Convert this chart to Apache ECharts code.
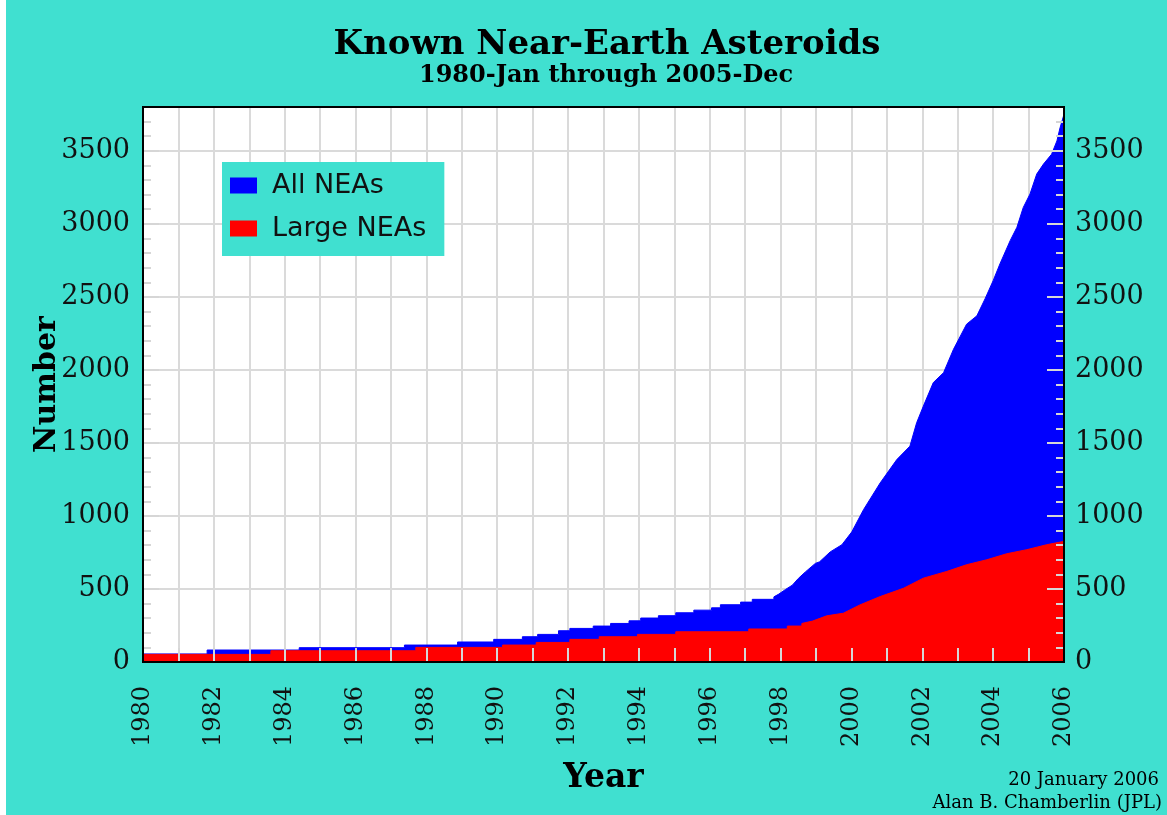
<!DOCTYPE html>
<html>
<head>
<meta charset="utf-8">
<script src="https://cdn.jsdelivr.net/npm/echarts@6.0.0/dist/echarts.min.js"></script>
<style>
html,body{margin:0;padding:0;background:#40E0D0;}
#c{width:1167px;height:815px;}
</style>
</head>
<body>
<div id="c"></div>
<script>
// ---- Data ----
const titleText = 'Known Near-Earth Asteroids';
const subtitleText = '1980-Jan through 2005-Dec';
const creditLines = ['20 January 2006', 'Alan B. Chamberlin (JPL)'];
const seriesNames = ['All NEAs', 'Large NEAs'];

const xTickLabels = [1980, 1982, 1984, 1986, 1988, 1990, 1992, 1994, 1996, 1998, 2000, 2002, 2004, 2006];
const yTickLabels = [0, 500, 1000, 1500, 2000, 2500, 3000, 3500];

// All NEAs (cumulative count); repeated years mark the stair steps
const allYears = [1980, 1981.81, 1981.81, 1984.41, 1984.41, 1987.38, 1987.38, 1988.88, 1988.88, 1989.90, 1989.90,
  1990.71, 1990.71, 1991.14, 1991.14, 1991.73, 1991.73, 1992.05, 1992.05, 1992.71, 1992.71, 1993.20, 1993.20,
  1993.72, 1993.72, 1994.05, 1994.05, 1994.55, 1994.55, 1995.04, 1995.04, 1995.55, 1995.55, 1996.05, 1996.05,
  1996.30, 1996.30, 1996.87, 1996.87, 1997.20, 1997.20, 1997.81, 1997.81,
  1997.95, 1998.14, 1998.33, 1998.50, 1998.70, 1998.98, 1999.10, 1999.40, 1999.73, 2000.01, 2000.34, 2000.81,
  2001.28, 2001.65, 2001.84, 2002.03, 2002.31, 2002.60, 2002.88, 2003.25, 2003.54, 2003.77, 2004.00, 2004.19,
  2004.48, 2004.67, 2004.85, 2005.04, 2005.23, 2005.42, 2005.65, 2005.80, 2005.89, 2006.00];
const allCounts = [55, 55, 82, 82, 98, 98, 116, 116, 137, 137, 155,
  155, 173, 173, 189, 189, 214, 214, 230, 230, 246, 246, 264,
  264, 282, 282, 301, 301, 317, 317, 337, 337, 355, 355, 371,
  371, 392, 392, 410, 410, 429, 429, 446,
  465, 497, 526, 572, 617, 675, 686, 754, 803, 891, 1043, 1226,
  1386, 1478, 1638, 1752, 1913, 1981, 2141, 2313, 2370, 2486, 2611, 2725,
  2885, 2976, 3112, 3204, 3341, 3409, 3477, 3568, 3659, 3750];

// Large NEAs
const largeYears = [1980, 1983.61, 1983.61, 1987.70, 1987.70, 1990.15, 1990.15, 1991.10, 1991.10, 1992.05, 1992.05,
  1992.88, 1992.88, 1993.96, 1993.96, 1995.04, 1995.04, 1997.10, 1997.10, 1998.19, 1998.19, 1998.60, 1998.60,
  1998.90, 1999.30, 1999.77, 2000.24, 2000.81, 2001.47, 2002.03, 2002.69, 2003.25, 2003.82, 2004.38, 2004.95,
  2005.51, 2006.00];
const largeCounts = [52, 52, 77, 77, 100, 100, 116, 116, 134, 134, 155,
  155, 173, 173, 189, 189, 207, 207, 226, 226, 246, 246, 264,
  280, 316, 334, 391, 448, 505, 574, 620, 666, 700, 741, 769,
  803, 826];

// ---- Chart ----
function zip(xs, ys) {
  const n = Math.min(xs.length, ys.length), out = [];
  for (let i = 0; i < n; i++) out.push([xs[i], ys[i]]);
  return out;
}

const BG = '#40E0D0';
const serif = 'DejaVu Serif';
const sans = 'DejaVu Sans';
const gridColor = '#dadada';
const tickColor = '#d6d6d6';
const xMin = 1980, xMax = 2006, yMin = 0, yMax = 3800;
const plotRect = {left: 143, top: 107, width: 921, height: 555};

const chart = echarts.init(document.getElementById('c'), null, {renderer: 'canvas'});

const hiddenAxisParts = {
  axisLine: {show: false, onZero: false},
  axisLabel: {show: false},
  splitLine: {show: false},
  minorTick: {show: false},
  minorSplitLine: {show: false}
};

function tickAxis(extra) {
  return Object.assign({type: 'value', z: 10}, hiddenAxisParts, extra);
}

const option = {
  backgroundColor: BG,
  animation: false,
  grid: [
    Object.assign({show: true, backgroundColor: '#ffffff', borderWidth: 0,
      containLabel: false, outerBoundsMode: 'none', z: 0}, plotRect),
    // frame drawn above the areas and ticks
    Object.assign({show: true, backgroundColor: 'transparent', borderColor: '#000', borderWidth: 2,
      containLabel: false, outerBoundsMode: 'none', z: 20}, plotRect)
  ],
  legend: {
    orient: 'vertical',
    left: 222, top: 162,
    data: [{name: seriesNames[0], icon: 'rect'}, {name: seriesNames[1], icon: 'rect'}],
    itemWidth: 27, itemHeight: 16, itemGap: 16,
    padding: [10, 18, 14, 8],
    backgroundColor: BG,
    borderWidth: 0,
    selectedMode: false,
    textStyle: {fontFamily: sans, fontSize: 27, color: '#111', padding: [0, 0, 0, 10]}
  },
  graphic: [
    {type: 'rect', left: 0, top: 0, shape: {width: 6, height: 815}, style: {fill: '#ffffff'}, silent: true},
    {type: 'text', x: 607, y: 45, style: {text: titleText, font: 'bold 34px "DejaVu Serif"', fill: '#000', textAlign: 'center', textVerticalAlign: 'middle'}},
    {type: 'text', x: 606, y: 76, style: {text: subtitleText, font: 'bold 24px "DejaVu Serif"', fill: '#000', textAlign: 'center', textVerticalAlign: 'middle'}},
    {type: 'text', x: 1159, y: 780, style: {text: creditLines[0], font: '18px "DejaVu Serif"', fill: '#000', textAlign: 'right', textVerticalAlign: 'middle'}},
    {type: 'text', x: 1162, y: 803, style: {text: creditLines[1], font: '18px "DejaVu Serif"', fill: '#000', textAlign: 'right', textVerticalAlign: 'middle'}}
  ],
  xAxis: [
    {
      type: 'value', gridIndex: 0, position: 'bottom', min: xMin, max: xMax, interval: 1,
      axisLine: {show: false, onZero: false}, axisTick: {show: false},
      axisLabel: {
        rotate: 90, margin: 24, fontFamily: serif, fontSize: 24, color: '#111',
        formatter: v => xTickLabels.indexOf(v) >= 0 ? String(v) : ''
      },
      splitLine: {show: true, lineStyle: {color: gridColor, width: 2}},
      name: 'Year', nameLocation: 'middle', nameGap: 100, nameMoveOverlap: false,
      nameTextStyle: {fontFamily: serif, fontWeight: 'bold', fontSize: 33, color: '#000'}
    },
    tickAxis({gridIndex: 0, position: 'bottom', min: xMin, max: xMax, interval: 1,
      axisTick: {show: true, inside: true, length: 14, lineStyle: {color: tickColor, width: 2}}}),
    tickAxis({gridIndex: 1, position: 'bottom', min: xMin, max: xMax, show: false, axisTick: {show: false}})
  ],
  yAxis: [
    {
      type: 'value', gridIndex: 0, position: 'left', min: yMin, max: yMax, interval: 500,
      axisLine: {show: false, onZero: false}, axisTick: {show: false},
      axisLabel: {
        margin: 13, fontFamily: serif, fontSize: 27, color: '#111',
        formatter: v => yTickLabels.indexOf(v) >= 0 ? String(v) : ''
      },
      splitLine: {show: true, lineStyle: {color: gridColor, width: 2}},
      name: 'Number', nameLocation: 'middle', nameGap: 81, nameRotate: 90, nameMoveOverlap: false,
      nameTextStyle: {fontFamily: serif, fontWeight: 'bold', fontSize: 30, color: '#000'}
    },
    tickAxis({gridIndex: 0, position: 'left', min: yMin, max: yMax, interval: 100,
      axisTick: {show: true, inside: true, length: 8, lineStyle: {color: tickColor, width: 2}}}),
    tickAxis({gridIndex: 0, position: 'left', min: yMin, max: yMax, interval: 500,
      axisTick: {show: true, inside: true, length: 16, lineStyle: {color: tickColor, width: 2}}}),
    {
      type: 'value', gridIndex: 0, position: 'right', min: yMin, max: yMax, interval: 500, z: 10,
      axisLine: {show: false, onZero: false},
      axisTick: {show: true, inside: true, length: 17, lineStyle: {color: tickColor, width: 2}},
      axisLabel: {
        margin: 11, fontFamily: serif, fontSize: 27, color: '#111',
        formatter: v => yTickLabels.indexOf(v) >= 0 ? String(v) : ''
      },
      splitLine: {show: false}, minorTick: {show: false}, minorSplitLine: {show: false}
    },
    tickAxis({gridIndex: 0, position: 'right', min: yMin, max: yMax, interval: 100,
      axisTick: {show: true, inside: true, length: 8, lineStyle: {color: tickColor, width: 2}}}),
    tickAxis({gridIndex: 1, position: 'left', min: yMin, max: yMax, show: false, axisTick: {show: false}})
  ],
  series: [
    {
      name: seriesNames[0], type: 'line', xAxisIndex: 0, yAxisIndex: 0,
      data: zip(allYears, allCounts),
      symbol: 'none', showSymbol: false, silent: true,
      lineStyle: {width: 1, color: '#0000ff'},
      itemStyle: {color: '#0000ff'},
      areaStyle: {color: '#0000ff', opacity: 1},
      z: 2
    },
    {
      name: seriesNames[1], type: 'line', xAxisIndex: 0, yAxisIndex: 0,
      data: zip(largeYears, largeCounts),
      symbol: 'none', showSymbol: false, silent: true,
      lineStyle: {width: 1, color: '#ff0000'},
      itemStyle: {color: '#ff0000'},
      areaStyle: {color: '#ff0000', opacity: 1},
      z: 3
    }
  ]
};

chart.setOption(option);
</script>
</body>
</html>
